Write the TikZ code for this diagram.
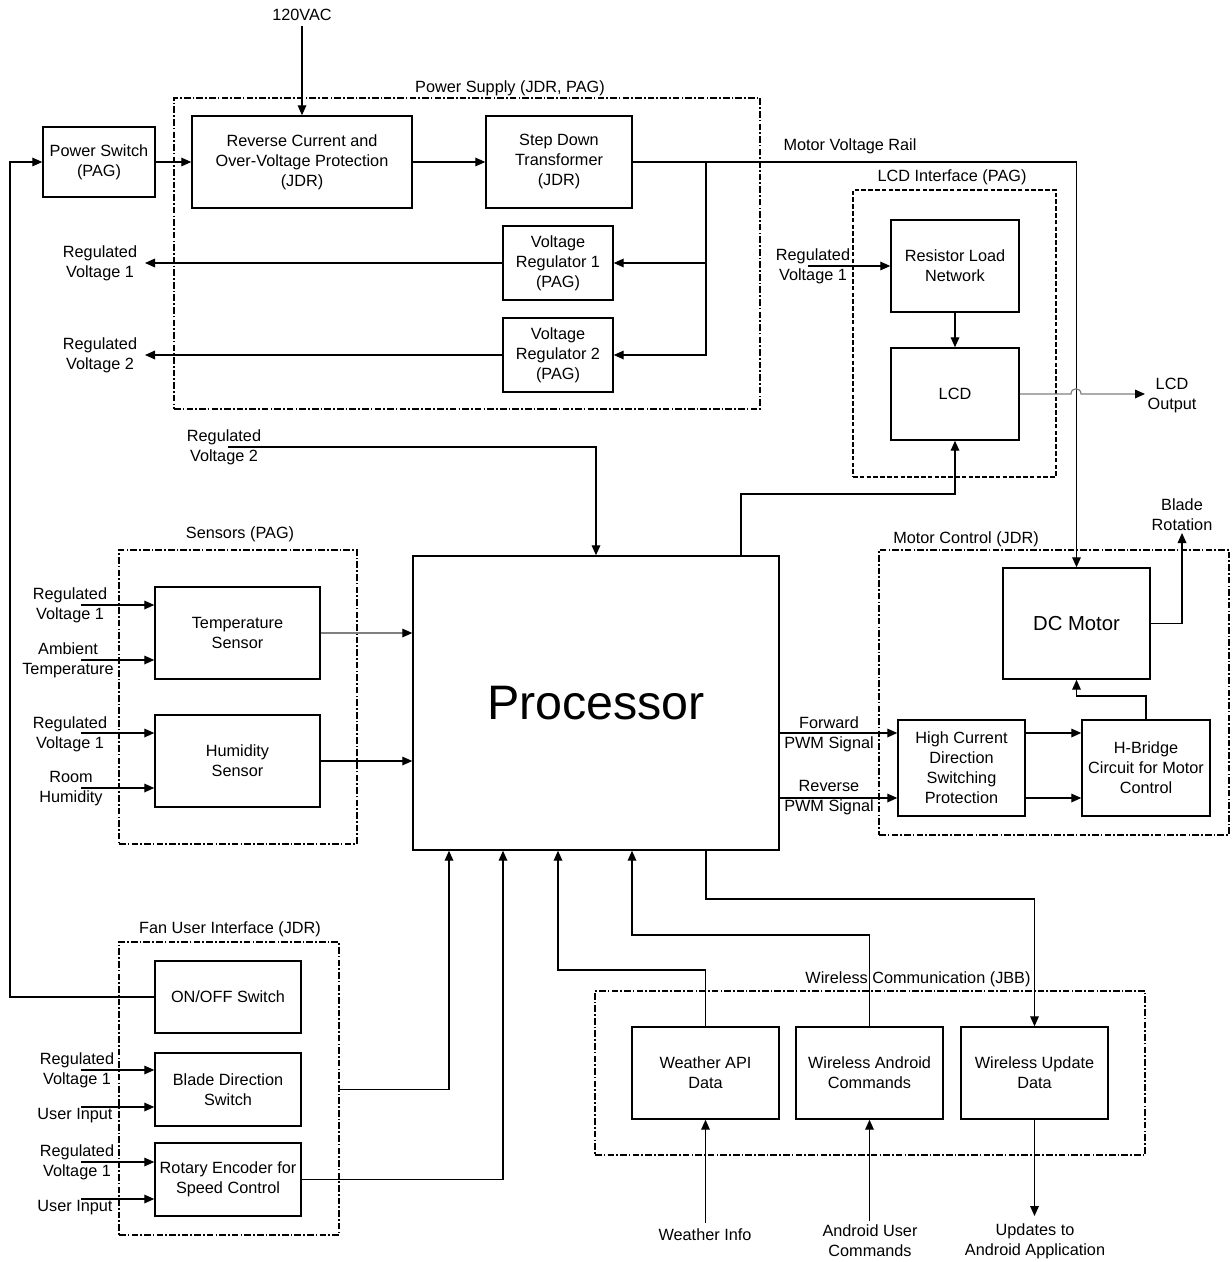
\documentclass[tikz,border=0pt]{standalone}
\usepackage{fontspec}
\setmainfont{Liberation Sans}
\usetikzlibrary{arrows.meta,fit}
\begin{document}
\begin{tikzpicture}[x=0.75pt,y=-0.75pt,
  every node/.style={font=\fontsize{12.2}{15}\selectfont},
  blk/.style={draw,line width=1.1pt,inner sep=0pt,align=center},
  sz/.style 2 args={minimum width={#1*0.75pt},minimum height={#2*0.75pt}},
  grp/.style={draw,line width=0.9pt,inner sep=0pt,
    dash pattern=on 5pt off 1.6pt on 1.2pt off 1.6pt},
  lcdgrp/.style={draw,line width=0.9pt,inner sep=0pt,
    dash pattern=on 3.5pt off 1.6pt},
  lbl/.style={inner sep=0pt,align=center},
  wire/.style={line width=0.9pt},
  arr/.style={wire,-{Triangle[length=7.5pt,width=6.5pt]}},
  faint/.style={wire,draw=black!50,-{Triangle[length=7.5pt,width=6.5pt,color=black]}}]
\useasboundingbox (0,0) rectangle (1231,1262);

% ---------- group frames ----------
\node[grp,fit={(174,98) (760,409)}] (psup) {};
\node[lcdgrp,fit={(853,190) (1056,477)}] (lcdif) {};
\node[grp,fit={(119,550) (357,844)}] (sens) {};
\node[grp,fit={(879,550) (1229,835)}] (motc) {};
\node[grp,fit={(119,942) (339,1235)}] (fan) {};
\node[grp,fit={(595,991) (1145,1155)}] (wcom) {};

\node[lbl] (psupT) at (510,88) {Power Supply (JDR, PAG)};
\node[lbl] (lcdifT) at (952,177) {LCD Interface (PAG)};
\node[lbl] (sensT) at (240,534) {Sensors (PAG)};
\node[lbl] (motcT) at (966,539) {Motor Control (JDR)};
\node[lbl] (fanT) at (230,929) {Fan User Interface (JDR)};
\node[lbl] (wcomT) at (918,979) {Wireless Communication (JBB)};

% ---------- blocks ----------
\node[blk,sz={112}{70}] (psw) at (99,162) {Power Switch\\(PAG)};
\node[blk,sz={220}{92}] (rev) at (302,162) {Reverse Current and\\Over-Voltage Protection\\(JDR)};
\node[blk,sz={146}{92}] (sd) at (559,162) {Step Down\\Transformer\\(JDR)};
\node[blk,sz={110}{74}] (vr1) at (558,263) {Voltage\\Regulator 1\\(PAG)};
\node[blk,sz={110}{74}] (vr2) at (558,355) {Voltage\\Regulator 2\\(PAG)};
\node[blk,sz={128}{92}] (rln) at (955,266) {Resistor Load\\Network};
\node[blk,sz={128}{92}] (lcd) at (955,394) {LCD};
\node[blk,sz={366}{294},font=\fontsize{36.3}{40}\selectfont] (proc) at (596,703) {Processor};
\node[blk,sz={165}{92}] (ts) at (237.5,633) {Temperature\\Sensor};
\node[blk,sz={165}{92}] (hs) at (237.5,761) {Humidity\\Sensor};
\node[blk,sz={147}{111},font=\fontsize{15.2}{18}\selectfont] (dcm) at (1076.5,623.5) {DC Motor};
\node[blk,sz={127}{96}] (hcd) at (961.5,768) {High Current\\Direction\\Switching\\Protection};
\node[blk,sz={128}{96}] (hb) at (1146,768) {H-Bridge\\Circuit for Motor\\Control};
\node[blk,sz={146}{72}] (onoff) at (228,997) {ON/OFF Switch};
\node[blk,sz={146}{73}] (bds) at (228,1089.5) {Blade Direction\\Switch};
\node[blk,sz={146}{73}] (rot) at (228,1179.5) {Rotary Encoder for\\Speed Control};
\node[blk,sz={147}{92}] (wapi) at (705.5,1073) {Weather API\\Data};
\node[blk,sz={147}{92}] (wand) at (869.5,1073) {Wireless Android\\Commands};
\node[blk,sz={147}{92}] (wupd) at (1034.5,1073) {Wireless Update\\Data};

% ---------- free labels ----------
\node[lbl] (vac) at (302,15) {120VAC};
\node[lbl] (mvr) at (850,146) {Motor Voltage Rail};
\node[lbl] (rv1L) at (100,263) {Regulated\\Voltage 1};
\node[lbl] (rv2L) at (100,355) {Regulated\\Voltage 2};
\node[lbl] (rv1lcd) at (813,266) {Regulated\\Voltage 1};
\node[lbl] (lcdo) at (1172,396) {LCD\\Output};
\node[lbl] (rv2p) at (224,447) {Regulated\\Voltage 2};
\node[lbl] (blade) at (1182,515) {Blade\\Rotation};
\node[lbl] (tsv) at (70,605) {Regulated\\Voltage 1};
\node[lbl] (amb) at (68,660) {Ambient\\Temperature};
\node[lbl] (hsv) at (70,734) {Regulated\\Voltage 1};
\node[lbl] (room) at (71,789) {Room\\Humidity};
\node[lbl] (fwd) at (829,734) {Forward\\PWM Signal};
\node[lbl] (rvs) at (829,798) {Reverse\\PWM Signal};
\node[lbl] (bdsv) at (77,1070) {Regulated\\Voltage 1};
\node[lbl] (bdsu) at (75,1116) {User Input};
\node[lbl] (rotv) at (77,1162) {Regulated\\Voltage 1};
\node[lbl] (rotu) at (75,1208) {User Input};
\node[lbl] (winfo) at (705,1235) {Weather Info};
\node[lbl] (auc) at (870,1241) {Android User\\Commands};
\node[lbl] (upd) at (1035,1241) {Updates to\\Android Application};

% ---------- free connector ends ----------
\coordinate (vacE) at (302,26);
\coordinate (jn) at (706,162);
\coordinate (rv1E) at (145,263);
\coordinate (rv2E) at (145,355);
\coordinate (rv1lcdE) at (808,266);
\coordinate (lcdoE) at (1145,394);
\coordinate (rv2pE) at (228,447);
\coordinate (bladeE) at (1182,533);
\coordinate (tsvE) at (81,605);
\coordinate (ambE) at (81,660);
\coordinate (hsvE) at (81,733);
\coordinate (roomE) at (81,788);
\coordinate (bdsvE) at (81,1070);
\coordinate (bdsuE) at (81,1107);
\coordinate (rotvE) at (81,1162);
\coordinate (rotuE) at (81,1199);
\coordinate (winfoE) at (705.5,1223);
\coordinate (aucE) at (869.5,1221);
\coordinate (updE) at (1034.5,1216);

% ---------- power supply ----------
\draw[arr] (vacE) -- (rev.north);
\draw[arr] (psw.east) -- (rev.west);
\draw[arr] (rev.east) -- (sd.west);
\draw[arr] (sd.east) -| (dcm.north);
\draw[arr] (jn) |- (vr1.east);
\draw[arr] (jn) |- (vr2.east);
\draw[arr] (vr1.west) -- (rv1E);
\draw[arr] (vr2.west) -- (rv2E);

% ---------- LCD interface ----------
\draw[arr] (rv1lcdE) -- (rv1lcdE -| rln.west);
\draw[arr] (rln.south) -- (lcd.north);
\draw[faint] (lcd.east) -- (1071,394)
  .. controls (1071,387) and (1081,387) .. (1081,394) -- (lcdoE);
\draw[arr] (proc.north -| 741,0) |- (lcd.south |- 0,494) -- (lcd.south);

% ---------- sensors ----------
\draw[arr] (rv2pE) -| (proc.north);
\draw[arr] (tsvE) -- (tsvE -| ts.west);
\draw[arr] (ambE) -- (ambE -| ts.west);
\draw[arr] (hsvE) -- (hsvE -| hs.west);
\draw[arr] (roomE) -- (roomE -| hs.west);
\draw[faint] (ts.east) -- (proc.west |- ts.east);
\draw[arr] (hs.east) -- (proc.west |- hs.east);

% ---------- motor control ----------
\draw[arr] (proc.east |- 0,733) -- (hcd.west |- 0,733);
\draw[arr] (proc.east |- 0,798) -- (hcd.west |- 0,798);
\draw[arr] (hcd.east |- 0,733) -- (hb.west |- 0,733);
\draw[arr] (hcd.east |- 0,798) -- (hb.west |- 0,798);
\draw[arr] (hb.north) |- (dcm.south |- 0,696) -- (dcm.south);
\draw[arr] (dcm.east) -| (bladeE);

% ---------- fan user interface ----------
\draw[arr] (onoff.west) -- (onoff.west -| 10,0) |- (psw.west);
\draw[arr] (bdsvE) -- (bdsvE -| bds.west);
\draw[arr] (bdsuE) -- (bdsuE -| bds.west);
\draw[arr] (rotvE) -- (rotvE -| rot.west);
\draw[arr] (rotuE) -- (rotuE -| rot.west);
\draw[arr] (fan.east |- bds.east) -| (proc.south -| 449,0);
\draw[arr] (rot.east) -| (proc.south -| 503,0);

% ---------- wireless communication ----------
\draw[arr] (wapi.north) -- (wapi.north |- 0,970) -| (proc.south -| 558,0);
\draw[arr] (wand.north) -- (wand.north |- 0,935) -| (proc.south -| 632,0);
\draw[arr] (proc.south -| 706,0) |- (wupd.north |- 0,899) -- (wupd.north);
\draw[arr] (winfoE) -- (wapi.south);
\draw[arr] (aucE) -- (wand.south);
\draw[arr] (wupd.south) -- (updE);
\end{tikzpicture}
\end{document}
